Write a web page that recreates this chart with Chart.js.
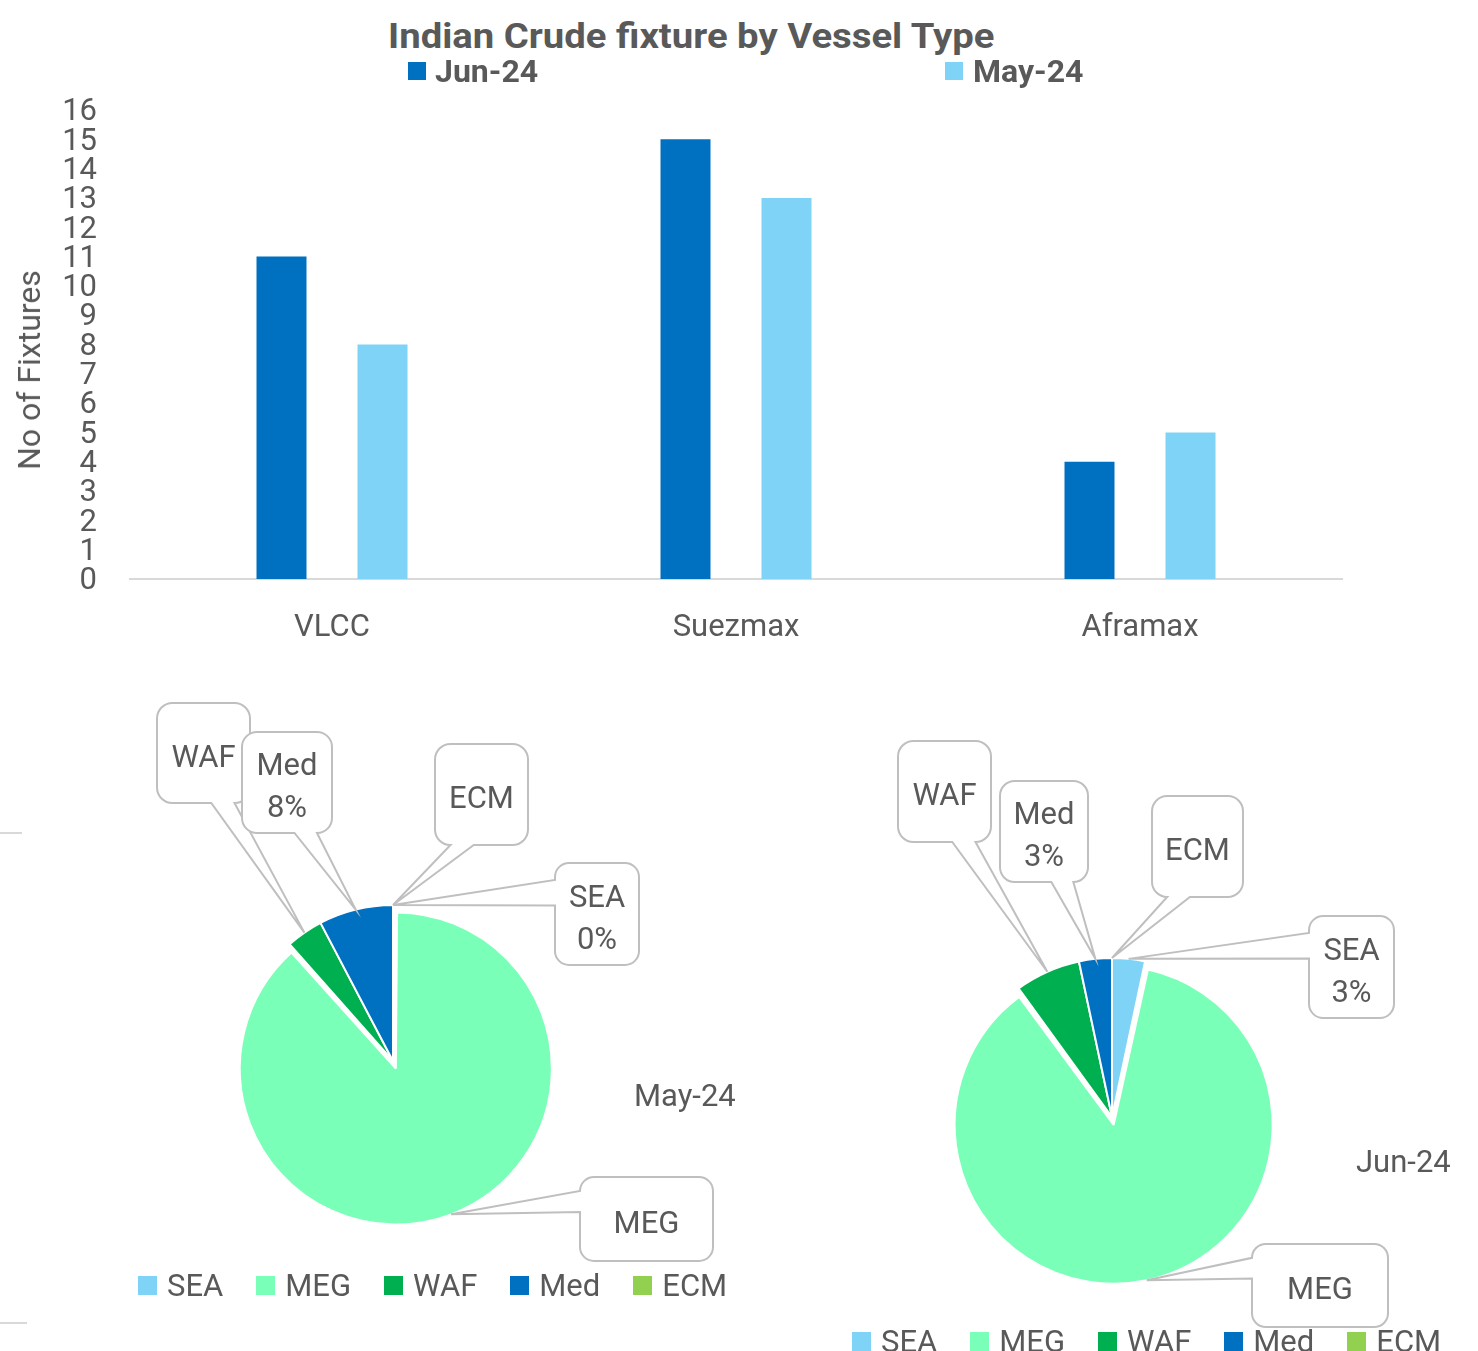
<!DOCTYPE html>
<html>
<head>
<meta charset="utf-8">
<title>Indian Crude fixture by Vessel Type</title>
<script src="https://cdn.jsdelivr.net/npm/chart.js@4.4.1/dist/chart.umd.min.js"></script>
<style>
  body { margin: 0; background: #fff; font-family: Roboto, sans-serif; color: #595959; }
  #page { position: relative; width: 1478px; height: 1351px; overflow: hidden; background: #fff; }
  canvas { position: absolute; }
  .txt { position: absolute; white-space: nowrap; line-height: 1; font-size: 31px; }
  .bold { font-weight: bold; }
  .legend { position: absolute; display: flex; align-items: center; font-size: 31px; line-height: 1; white-space: nowrap; }
  .legend .item { display: flex; align-items: center; margin-right: 33px; }
  .legend .sw { width: 19px; height: 19px; margin-right: 10px; }
  .rule { position: absolute; left: 0; height: 2px; background: #d9d9d9; }
</style>
</head>
<body>
<div id="page">
  <div id="title" class="txt bold" style="font-size:35px;">Indian Crude fixture by Vessel Type</div>
  <canvas id="bars" width="1478" height="660" style="left:0;top:0;"></canvas>
  <div class="txt" style="left:29px;top:370px;font-size:32px;transform:translate(-50%,-50%) rotate(-90deg);">No of Fixtures</div>
  <canvas id="pieMay" width="740" height="691" style="left:0;top:660px;"></canvas>
  <canvas id="pieJun" width="738" height="691" style="left:740px;top:660px;"></canvas>
  <div class="txt" style="left:634px;top:1080px;">May-24</div>
  <div class="txt" style="left:1356px;top:1146px;">Jun-24</div>
  <div id="legMay" class="legend" style="left:138px;top:1270px;"></div>
  <div id="legJun" class="legend" style="left:852px;top:1326px;"></div>
  <div class="rule" style="top:832px;width:22px;"></div>
  <div class="rule" style="top:1322px;width:27px;"></div>
</div>
<script>
// bar chart data
const vesselTypes = ['VLCC', 'Suezmax', 'Aframax'];
const jun24Fixtures = [11, 15, 4];
const may24Fixtures = [8, 13, 5];
const barSeries = ['Jun-24', 'May-24'];
const barColors = ['#0070c0', '#7fd3f7'];

// pie data (fixtures by load region)
const regions = ['SEA', 'MEG', 'WAF', 'Med', 'ECM'];
const may24ByRegion = [0, 23, 1, 2, 0];
const jun24ByRegion = [1, 26, 2, 1, 0];
const may24ShowPct = [true, false, false, true, false];
const jun24ShowPct = [true, false, false, true, false];
const regionColors = ['#7fd3f7', '#7affb8', '#00b050', '#0070c0', '#92d050'];

const grey = '#595959';
Chart.defaults.font.family = 'Roboto, sans-serif';
Chart.defaults.color = grey;

// title + top legend (condensed like the original)
const page = document.getElementById('page');
const title = document.getElementById('title');
const squeeze = 606 / title.offsetWidth;
title.style.left = (691 - title.offsetWidth / 2) + 'px';
title.style.top = '19px';
title.style.transform = 'scaleX(' + squeeze + ')';

const topLegendPos = [[408, 435], [945, 973]];
barSeries.forEach((name, i) => {
  const sw = document.createElement('div');
  sw.style.cssText = 'position:absolute;width:18px;height:18px;top:62px;left:' + topLegendPos[i][0] + 'px;background:' + barColors[i];
  const t = document.createElement('div');
  t.className = 'txt bold';
  t.textContent = name;
  t.style.left = topLegendPos[i][1] + 'px';
  t.style.top = '56px';
  t.style.transformOrigin = 'left center';
  t.style.transform = 'scaleX(' + (squeeze * 0.945) + ')';
  page.appendChild(sw);
  page.appendChild(t);
});

new Chart(document.getElementById('bars'), {
  type: 'bar',
  data: {
    labels: vesselTypes,
    datasets: [
      { label: barSeries[0], data: jun24Fixtures, backgroundColor: barColors[0], categoryPercentage: 0.5, barPercentage: 0.495 },
      { label: barSeries[1], data: may24Fixtures, backgroundColor: barColors[1], categoryPercentage: 0.5, barPercentage: 0.495 }
    ]
  },
  options: {
    responsive: false,
    animation: false,
    events: [],
    layout: { padding: { top: 110, right: 136, left: 0, bottom: 0 } },
    plugins: { legend: { display: false }, tooltip: { enabled: false } },
    scales: {
      x: {
        grid: { display: false, drawTicks: false },
        border: { display: true, color: '#d9d9d9', width: 2 },
        ticks: { padding: 31, font: { size: 31 }, color: grey },
        afterFit: (s) => { s.height = 81; }
      },
      y: {
        min: 0,
        max: 16,
        grid: { display: false, drawTicks: false },
        border: { display: false },
        ticks: { stepSize: 1, autoSkip: false, padding: 33, labelOffset: 2.5, font: { size: 31, lineHeight: 1 }, color: grey },
        afterFit: (s) => { s.width = 130; }
      }
    }
  }
});

// rounded callout box with a wedge pointing at (tx, ty)
function calloutPath(ctx, l, t, w, h, tx, ty) {
  const r = Math.min(w, h) / 6;
  const R = l + w, B = t + h;
  const dx = tx - (l + w / 2), dy = ty - (t + h / 2);
  const vertical = Math.abs(dy) - Math.abs(dx * h / w) > 0;
  const x1 = l + w * (dx > 0 ? 7 : 2) / 12, x2 = l + w * (dx > 0 ? 10 : 5) / 12;
  const y1 = t + h * (dy > 0 ? 7 : 2) / 12, y2 = t + h * (dy > 0 ? 10 : 5) / 12;
  ctx.beginPath();
  ctx.moveTo(l + r, t);
  if (vertical && dy < 0) { ctx.lineTo(x1, t); ctx.lineTo(tx, ty); ctx.lineTo(x2, t); }
  ctx.lineTo(R - r, t);
  ctx.arcTo(R, t, R, t + r, r);
  if (!vertical && dx > 0) { ctx.lineTo(R, y1); ctx.lineTo(tx, ty); ctx.lineTo(R, y2); }
  ctx.lineTo(R, B - r);
  ctx.arcTo(R, B, R - r, B, r);
  if (vertical && dy > 0) { ctx.lineTo(x2, B); ctx.lineTo(tx, ty); ctx.lineTo(x1, B); }
  ctx.lineTo(l + r, B);
  ctx.arcTo(l, B, l, B - r, r);
  if (!vertical && dx < 0) { ctx.lineTo(l, y2); ctx.lineTo(tx, ty); ctx.lineTo(l, y1); }
  ctx.lineTo(l, t + r);
  ctx.arcTo(l, t, l + r, t, r);
  ctx.closePath();
}

const calloutPlugin = {
  id: 'callouts',
  // exploded slices keep the same radius as the others (like Excel)
  beforeDatasetsDraw(chart) {
    const meta = chart.getDatasetMeta(0);
    const R = meta.controller.outerRadius;
    meta.data.forEach((arc) => {
      const off = arc.options.offset || 0;
      const fix = 1 - Math.sin(Math.min(Math.PI, arc.circumference || 0));
      arc.outerRadius = R - off / 4 * fix;
    });
  },
  afterDatasetsDraw(chart, args, opts) {
    const ctx = chart.ctx;
    const meta = chart.getDatasetMeta(0);
    const R = meta.controller.outerRadius;
    const values = chart.data.datasets[0].data;
    const total = values.reduce((a, b) => a + b, 0);
    ctx.save();
    opts.boxes.forEach((b, i) => {
      const arc = meta.data[i];
      const mid = (arc.startAngle + arc.endAngle) / 2;
      const dist = R + (arc.options.offset || 0) / 4;
      const tx = arc.x + Math.cos(mid) * dist;
      const ty = arc.y + Math.sin(mid) * dist;
      const l = b[0] - opts.left, t = b[1] - opts.top, w = b[2], h = b[3];
      calloutPath(ctx, l, t, w, h, tx, ty);
      ctx.fillStyle = '#fff';
      ctx.fill();
      ctx.strokeStyle = '#bfbfbf';
      ctx.lineWidth = 2;
      ctx.stroke();
      const lines = [chart.data.labels[i]];
      if (opts.showPct[i]) lines.push(Math.round(values[i] / total * 100) + '%');
      ctx.fillStyle = grey;
      ctx.font = '31px Roboto, sans-serif';
      ctx.textAlign = 'center';
      ctx.textBaseline = 'alphabetic';
      lines.forEach((s, k) => {
        const cy = t + h / 2 + 2.5 + (k - (lines.length - 1) / 2) * 42;
        ctx.fillText(s, l + w / 2, cy + 11);
      });
    });
    ctx.restore();
  }
};

function makePie(id, values, showPct, pos, boxes) {
  const W = pos.w, H = pos.h;
  const cx = pos.cx - pos.left, cy = pos.cy - pos.top, r = pos.r;
  new Chart(document.getElementById(id), {
    type: 'pie',
    data: {
      labels: regions,
      datasets: [{
        data: values,
        backgroundColor: regionColors,
        borderColor: '#fff',
        borderWidth: 2,
        offset: [0, 32, 0, 0, 0],
        radius: r
      }]
    },
    options: {
      responsive: false,
      animation: false,
      events: [],
      radius: r,
      layout: { padding: { left: cx - r, right: W - cx - r, top: cy - r, bottom: H - cy - r } },
      plugins: {
        legend: { display: false },
        tooltip: { enabled: false },
        callouts: { left: pos.left, top: pos.top, boxes: boxes, showPct: showPct }
      }
    },
    plugins: [calloutPlugin]
  });
}

// callout boxes in page pixels: [x, y, w, h], one per region
makePie('pieMay', may24ByRegion, may24ShowPct,
  { left: 0, top: 660, w: 740, h: 691, cx: 393, cy: 1061, r: 156 },
  [[555, 863, 84, 102], [580, 1177, 133, 84], [157, 703, 93, 100], [242, 732, 90, 101], [435, 744, 93, 101]]);
makePie('pieJun', jun24ByRegion, jun24ShowPct,
  { left: 740, top: 660, w: 738, h: 691, cx: 1112, cy: 1117, r: 159 },
  [[1309, 916, 85, 102], [1252, 1244, 136, 83], [898, 741, 93, 101], [1000, 781, 88, 101], [1152, 796, 91, 101]]);

function buildLegend(id) {
  const el = document.getElementById(id);
  regions.forEach((name, i) => {
    const item = document.createElement('div');
    item.className = 'item';
    item.innerHTML = '<div class="sw" style="background:' + regionColors[i] + '"></div><span>' + name + '</span>';
    el.appendChild(item);
  });
}
buildLegend('legMay');
buildLegend('legJun');
</script>
</body>
</html>
